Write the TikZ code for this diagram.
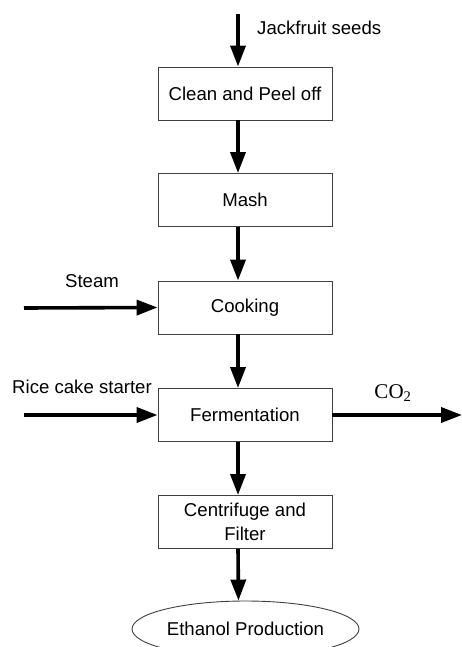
\documentclass[tikz,border=0pt]{standalone}
\usepackage{fontspec}
\setmainfont{Liberation Serif}
\setsansfont{Liberation Sans}
\usetikzlibrary{arrows.meta,shapes.geometric}

\begin{document}
\begin{tikzpicture}[
  x=1pt,y=-1pt,
  box/.style={draw=black!75,line width=0.9pt,minimum width=174pt,minimum height=53pt,
    align=center,inner sep=0pt,font=\sffamily\fontsize{18.6}{24.5}\selectfont},
  flow/.style={-{Triangle[width=15pt,length=21pt]},line width=3.6pt},
  label/.style={inner sep=0pt,font=\sffamily\fontsize{18.6}{22}\selectfont}
]
\useasboundingbox (0,0) rectangle (462,647);
\clip (0,0) rectangle (462,647);
\node[box] (clean) at (245,93.5) {Clean and Peel off};
\node[box] (mash) at (245,200) {Mash};
\node[box] (cook) at (245,307.5) {Cooking};
\node[box] (ferment) at (245,415) {Fermentation};
\node[box] (filter) at (245,522) {Centrifuge and\\Filter};
\node[box,ellipse,minimum width=227pt,minimum height=56pt] (ethanol) at (245.5,629) {Ethanol Production};
\coordinate (seeds) at (238,14);
\coordinate (steam) at (24,308);
\coordinate (rice) at (24,415);
\coordinate (gas) at (462,415);
\draw[flow] (seeds) -- ([xshift=-7pt]clean.north);
\foreach \a/\b in {clean/mash,mash/cook,cook/ferment,ferment/filter,filter/ethanol}
  {\draw[flow] ([xshift=-7pt]\a.south) -- ([xshift=-7pt]\b.north);}
\draw[flow] (steam) -- (cook.west);
\draw[flow] (rice) -- (ferment.west);
\draw[flow] (ferment.east) -- (gas);
\node[label,anchor=west] (seedlbl) at (257,28) {Jackfruit seeds};
\node[label] (steamlbl) at (92,281) {Steam};
\node[label] (ricelbl) at (82,387) {Rice cake starter};
\node[inner sep=0pt,font=\rmfamily\fontsize{21}{24}\selectfont] (co2lbl) at (393,393) {CO\textsubscript{2}};
\end{tikzpicture}
\end{document}
